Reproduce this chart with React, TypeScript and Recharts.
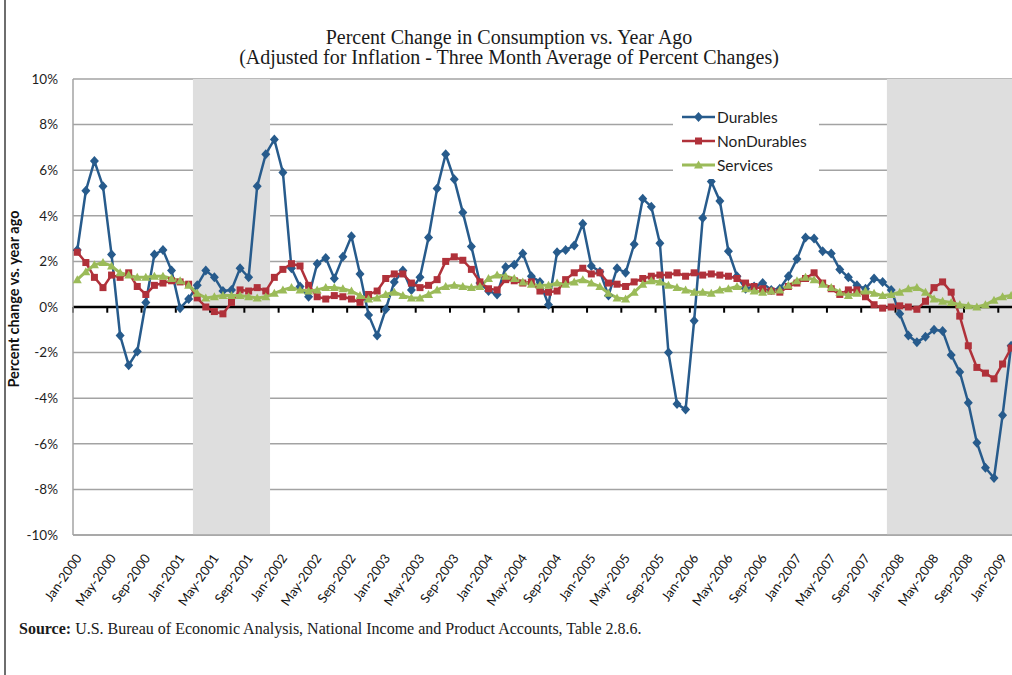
import React from 'react';
import { LineChart, Line, XAxis, YAxis, CartesianGrid, ReferenceArea, ReferenceLine, Legend, Label } from 'recharts';

// monthly categories, Jan-2000 .. Feb-2009
const MONTH_NAMES = ['Jan', 'Feb', 'Mar', 'Apr', 'May', 'Jun', 'Jul', 'Aug', 'Sep', 'Oct', 'Nov', 'Dec'];
const YEARS = [2000, 2001, 2002, 2003, 2004, 2005, 2006, 2007, 2008, 2009];
const MONTHS = YEARS.flatMap((y) => MONTH_NAMES.map((m) => `${m}-${y}`)).slice(0, 110);

const DURABLES = [
  2.5, 5.1, 6.4, 5.3, 2.3, -1.25, -2.55, -1.95, 0.2, 2.3, 2.5, 1.6,
  -0.05, 0.35, 0.95, 1.6, 1.3, 0.7, 0.75, 1.7, 1.3, 5.3, 6.7, 7.35,
  5.9, 1.7, 0.9, 0.45, 1.9, 2.15, 1.25, 2.2, 3.1, 1.45, -0.35, -1.25,
  -0.1, 1.1, 1.6, 0.75, 1.3, 3.05, 5.2, 6.7, 5.6, 4.15, 2.65, 1.05,
  0.7, 0.55, 1.75, 1.85, 2.35, 1.35, 1.1, 0.1, 2.4, 2.5, 2.7, 3.65,
  1.8, 1.55, 0.5, 1.7, 1.5, 2.75, 4.75, 4.4, 2.8, -2.0, -4.25, -4.5,
  -0.6, 3.9, 5.5, 4.65, 2.45, 1.35, 0.8, 0.9, 1.05, 0.75, 0.8, 1.35,
  2.1, 3.05, 3.0, 2.45, 2.35, 1.65, 1.3, 0.95, 0.8, 1.25, 1.1, 0.75,
  -0.3, -1.25, -1.55, -1.3, -1.0, -1.05, -2.1, -2.85, -4.2, -5.95, -7.05, -7.5,
  -4.75, -1.7,
];

const NON_DURABLES = [
  2.4, 1.95, 1.3, 0.85, 1.4, 1.3, 1.5, 0.9, 0.55, 0.95, 1.05, 1.15,
  1.1, 1.0, 0.4, 0.0, -0.2, -0.3, 0.2, 0.75, 0.7, 0.85, 0.7, 1.3,
  1.65, 1.9, 1.8, 0.95, 0.45, 0.35, 0.5, 0.45, 0.35, 0.2, 0.55, 0.7,
  1.25, 1.45, 1.45, 1.05, 0.85, 0.95, 1.2, 2.0, 2.2, 2.05, 1.65, 1.1,
  0.8, 0.75, 1.2, 1.15, 1.05, 1.1, 0.7, 0.65, 0.7, 1.2, 1.5, 1.7,
  1.45, 1.5, 1.05, 1.0, 0.9, 1.1, 1.25, 1.35, 1.4, 1.4, 1.5, 1.35,
  1.5, 1.4, 1.45, 1.4, 1.35, 1.25, 1.05, 0.9, 0.8, 0.7, 0.65, 0.9,
  1.05, 1.25, 1.5, 1.05, 0.8, 0.55, 0.75, 0.75, 0.45, 0.1, -0.05, 0.0,
  0.05, 0.0, -0.1, 0.25, 0.85, 1.1, 0.65, -0.4, -1.7, -2.65, -2.9, -3.15,
  -2.5, -1.8,
];

const SERVICES = [
  1.2, 1.55, 1.85, 1.95, 1.8, 1.5, 1.4, 1.3, 1.3, 1.35, 1.35, 1.25,
  1.15, 0.95, 0.6, 0.4, 0.45, 0.5, 0.5, 0.5, 0.45, 0.4, 0.45, 0.6,
  0.75, 0.85, 0.75, 0.7, 0.75, 0.85, 0.85, 0.8, 0.7, 0.5, 0.35, 0.4,
  0.55, 0.65, 0.5, 0.4, 0.4, 0.55, 0.75, 0.9, 0.95, 0.9, 0.85, 0.9,
  1.25, 1.4, 1.35, 1.25, 1.1, 1.0, 0.95, 0.95, 1.05, 1.0, 1.1, 1.2,
  1.05, 0.9, 0.6, 0.4, 0.35, 0.65, 1.0, 1.15, 1.1, 0.95, 0.85, 0.75,
  0.65, 0.65, 0.6, 0.75, 0.8, 0.9, 0.8, 0.7, 0.65, 0.7, 0.75, 0.95,
  1.15, 1.3, 1.2, 1.0, 0.85, 0.65, 0.5, 0.6, 0.7, 0.6, 0.5, 0.55,
  0.65, 0.8, 0.85, 0.65, 0.35, 0.25, 0.2, 0.1, 0.05, 0.0, 0.1, 0.3,
  0.45, 0.5,
];

const Y_TICKS = [-10, -8, -6, -4, -2, 0, 2, 4, 6, 8, 10];
const LABEL_EVERY = 4;
// recession shading, in month index (start, end exclusive)
const RECESSIONS = [
  { from: 14, to: 23 },
  { from: 95, to: 110 },
];
// the picture is cropped just after the last (Feb-2009) point
const X_END = 109.6;

const SERIES = [
  { key: 'durables', name: 'Durables', color: '#275b8c', shape: 'diamond', width: 2.5 },
  { key: 'nonDurables', name: 'NonDurables', color: '#b0313a', shape: 'square', width: 2.5 },
  { key: 'services', name: 'Services', color: '#9bbb59', shape: 'triangle', width: 3 },
];

const rows = MONTHS.map((month, i) => ({
  x: i + 0.5,
  month,
  durables: DURABLES[i],
  nonDurables: NON_DURABLES[i],
  services: SERVICES[i],
}));

const labelTicks = MONTHS.map((_, i) => i).filter((i) => i % LABEL_EVERY === 0).map((i) => i + 0.5);
const boundaryTicks = MONTHS.map((_, i) => i).filter((i) => i % LABEL_EVERY === 0);

const marker = (shape: string, cx: number, cy: number, color: string, key?: any) => {
  if (shape === 'diamond') {
    return <path key={key} d={`M${cx},${cy - 5}L${cx + 4.5},${cy}L${cx},${cy + 5}L${cx - 4.5},${cy}Z`} fill={color} />;
  }
  if (shape === 'square') {
    return <rect key={key} x={cx - 3.5} y={cy - 3.5} width={7} height={7} fill={color} />;
  }
  return <path key={key} d={`M${cx},${cy - 4.5}L${cx + 4.5},${cy + 3.5}L${cx - 4.5},${cy + 3.5}Z`} fill={color} />;
};

const MonthTick = ({ x, y, payload }: any) => {
  const ax = x + 5;
  const ay = y + 23;
  return (
    <text
      x={ax}
      y={ay}
      transform={`rotate(-55 ${ax} ${ay})`}
      textAnchor="end"
      fontSize={13}
      fontFamily="Lato"
      fill="#111"
    >
      {MONTHS[Math.floor(payload.value)]}
    </text>
  );
};

const LegendBox = () => (
  <svg width={146} height={76}>
    {SERIES.map((s, i) => {
      const cy = 14 + i * 24;
      return (
        <g key={s.key}>
          <line x1={9} x2={42} y1={cy} y2={cy} stroke={s.color} strokeWidth={s.width} />
          {marker(s.shape, 25.5, cy, s.color)}
          <text x={44} y={cy} dominantBaseline="central" fontSize={15.5} fontFamily="Lato" fill="#1e1e1e">
            {s.name}
          </text>
        </g>
      );
    })}
  </svg>
);

const App = () => {
  return (
    <div style={{ position: 'relative', width: 1012, height: 675, overflow: 'hidden', background: '#fff' }}>
      <style>{'html, body { margin: 0; padding: 0; overflow: hidden; }'}</style>
      <LineChart width={1012} height={640} data={rows} margin={{ top: 79, right: 0, bottom: 45, left: 17 }}>
        <CartesianGrid horizontal vertical={false} stroke="#a3a3a3" strokeWidth={1.5} />
        {RECESSIONS.map((r) => (
          <ReferenceArea
            key={r.from}
            x1={r.from}
            x2={Math.min(r.to, X_END)}
            y1={-10}
            y2={10}
            fill="#dedede"
            fillOpacity={1}
            stroke="none"
          />
        ))}
        <XAxis
          type="number"
          dataKey="x"
          domain={[0, X_END]}
          allowDataOverflow
          ticks={labelTicks}
          tick={<MonthTick />}
          tickLine={false}
          tickSize={0}
          tickMargin={0}
          interval={0}
          height={60}
          axisLine={{ stroke: '#a3a3a3', strokeWidth: 1.5 }}
        />
        <YAxis
          domain={[-10, 10]}
          ticks={Y_TICKS}
          tickFormatter={(v) => `${v}%`}
          width={56}
          tickLine={false}
          tickSize={0}
          tickMargin={15}
          axisLine={{ stroke: '#a3a3a3', strokeWidth: 1.5 }}
          tick={{ fontSize: 13.5, fontFamily: 'Lato', fill: '#1e1e1e' }}
        >
          <Label
            content={() => (
              <text
                x={13}
                y={299}
                transform="rotate(-90 13 299)"
                textAnchor="middle"
                dominantBaseline="central"
                fontSize={14.5}
                fontWeight="bold"
                fontFamily="Lato"
                fill="#111"
              >
                Percent change vs. year ago
              </text>
            )}
          />
        </YAxis>
        <ReferenceLine y={0} stroke="#000" strokeWidth={2.5} />
        {boundaryTicks.map((b) => (
          <ReferenceLine
            key={`t-${b}`}
            segment={[
              { x: b, y: 0 },
              { x: b, y: -0.25 },
            ]}
            stroke="#000"
            strokeWidth={2}
          />
        ))}
        {SERIES.map((s) => (
          <Line
            key={s.key}
            type="linear"
            dataKey={s.key}
            name={s.name}
            stroke={s.color}
            strokeWidth={s.width}
            dot={(p: any) => marker(s.shape, p.cx, p.cy, s.color, `${s.key}-${p.index}`)}
            activeDot={false}
            isAnimationActive={false}
          />
        ))}
        <Legend
          layout="vertical"
          align="center"
          verticalAlign="middle"
          content={<LegendBox />}
          wrapperStyle={{ left: 673, top: 103, width: 146, height: 76, background: '#fff' }}
        />
      </LineChart>

      <div style={{ position: 'absolute', left: 4, top: 0, width: 2, height: 675, background: '#6e6e6e' }} />

      <div
        style={{
          position: 'absolute',
          left: 0,
          top: 27,
          width: 1018,
          textAlign: 'center',
          fontFamily: '"Liberation Serif", serif',
          fontSize: 20,
          lineHeight: '20px',
          color: '#1a1a1a',
        }}
      >
        <div>Percent Change in Consumption vs. Year Ago</div>
        <div>(Adjusted for Inflation - Three Month Average of Percent Changes)</div>
      </div>

      <div
        style={{
          position: 'absolute',
          left: 19,
          top: 620,
          fontFamily: '"Liberation Serif", serif',
          fontSize: 16,
          lineHeight: '18px',
          color: '#1a1a1a',
          whiteSpace: 'nowrap',
        }}
      >
        <b>Source:</b> U.S. Bureau of Economic Analysis, National Income and Product Accounts, Table 2.8.6.
      </div>
    </div>
  );
};

export default App;
